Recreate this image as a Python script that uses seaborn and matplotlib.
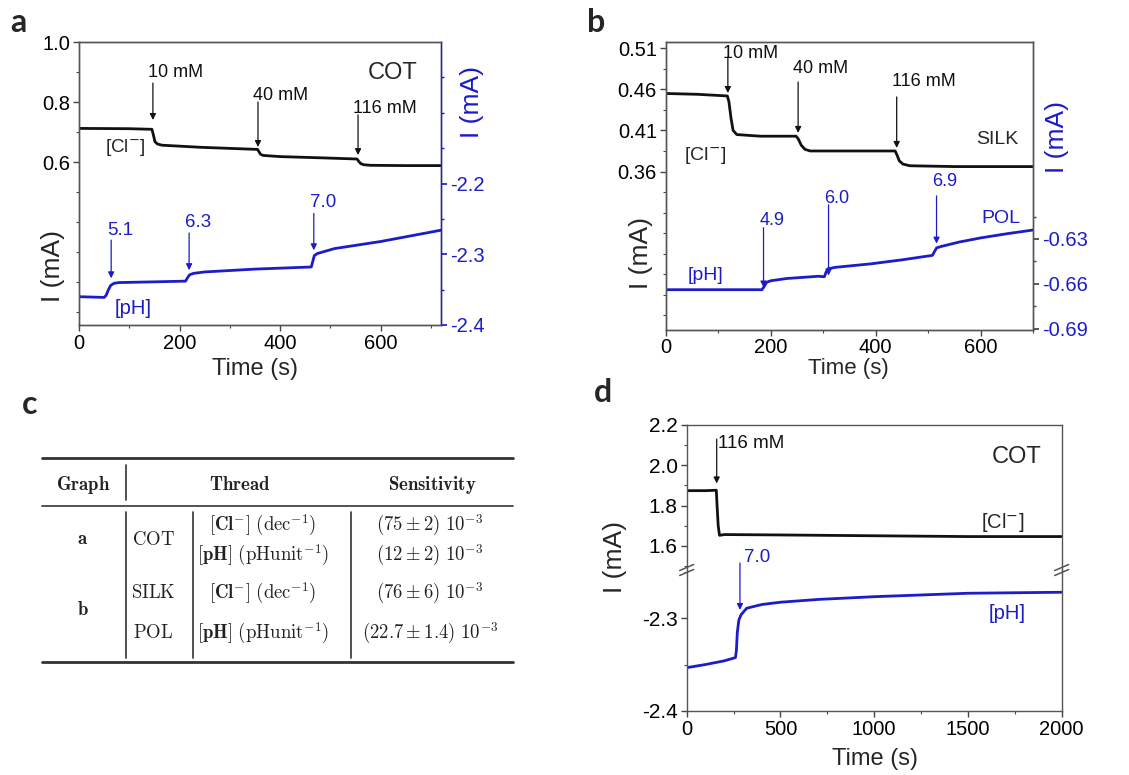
import numpy as np
import pandas as pd
import matplotlib
matplotlib.use("Agg")
import matplotlib.pyplot as plt
from matplotlib.ticker import FixedLocator, MultipleLocator, FormatStrFormatter
import seaborn as sns

# ---------------- data ----------------
# panel a: COT thread
a_t_cl = [0, 100, 145, 148, 151, 156, 165, 242, 355, 358, 361, 366, 400, 480, 553, 556, 560, 566, 580, 650, 720]
a_v_cl = [0.712, 0.711, 0.709, 0.690, 0.668, 0.660, 0.656, 0.649, 0.642, 0.634, 0.626, 0.622, 0.618, 0.614, 0.610, 0.603, 0.595, 0.591, 0.589, 0.588, 0.588]
a_t_ph = [0, 50, 54, 58, 63, 70, 80, 150, 212, 216, 220, 228, 250, 350, 462, 465, 468, 474, 508, 600, 720]
a_v_ph = [-2.360, -2.361, -2.358, -2.351, -2.344, -2.341, -2.340, -2.339, -2.338, -2.333, -2.329, -2.327, -2.325, -2.321, -2.318, -2.310, -2.302, -2.299, -2.292, -2.282, -2.266]

# panel b: SILK / POL threads
b_t_cl = [0, 60, 117, 120, 124, 128, 135, 180, 248, 252, 258, 265, 275, 350, 437, 440, 445, 452, 465, 550, 700]
b_v_cl = [0.455, 0.454, 0.452, 0.445, 0.425, 0.410, 0.405, 0.403, 0.403, 0.400, 0.392, 0.387, 0.385, 0.385, 0.385, 0.381, 0.373, 0.369, 0.367, 0.366, 0.366]
b_t_ph = [0, 100, 183, 187, 192, 200, 230, 290, 302, 305, 309, 323, 390, 450, 508, 512, 516, 525, 560, 600, 650, 700]
b_v_ph = [-0.664, -0.664, -0.664, -0.662, -0.659, -0.658, -0.6565, -0.655, -0.6553, -0.6525, -0.650, -0.649, -0.6467, -0.644, -0.641, -0.6385, -0.636, -0.635, -0.632, -0.6293, -0.6265, -0.624]

# panel d: COT long run
d_t_cl = [0, 100, 158, 162, 168, 175, 200, 500, 1000, 1500, 2000]
d_v_cl = [1.874, 1.874, 1.876, 1.80, 1.70, 1.652, 1.656, 1.654, 1.650, 1.646, 1.646]
d_t_ph = [0, 100, 200, 260, 265, 270, 278, 290, 320, 400, 500, 700, 1000, 1500, 2000]
d_v_ph = [-2.3534, -2.350, -2.346, -2.3425, -2.335, -2.315, -2.302, -2.296, -2.289, -2.285, -2.2825, -2.2795, -2.2765, -2.2728, -2.2717]

# annotations (label, time, tail value, head value, text value)
a_cl_marks = [("10 mM", 147, 0.863, 0.740, 0.900), ("40 mM", 356, 0.800, 0.650, 0.823), ("116 mM", 555, 0.757, 0.623, 0.780)]
a_ph_marks = [("5.1", 64, -2.280, -2.334, -2.266), ("6.3", 219, -2.270, -2.3225, -2.255), ("7.0", 467, -2.2423, -2.2944, -2.2268)]
b_cl_marks = [("10 mM", 118, 0.4994, 0.4556, 0.5043), ("40 mM", 252, 0.469, 0.407, 0.486), ("116 mM", 440, 0.4508, 0.3887, 0.4702)]
b_ph_marks = [("4.9", 186, -0.6225, -0.6625, -0.6178), ("6.0", 310, -0.6071, -0.6545, -0.6031), ("6.9", 516, -0.6011, -0.6331, -0.5918)]
d_cl_marks = [("116 mM", 160, 2.13, 1.91, 2.11)]
d_ph_marks = [("7.0", 284, -2.240, -2.2909, -2.2346)]

# table (panel c)
tbl_header = ["Graph", "Thread", "Sensitivity"]
tbl_graph = ["a", "b"]
tbl_thread = ["COT", "SILK", "POL"]
tbl_ion = [r"$[\mathbf{Cl}^{\mathbf{-}}]\ (\mathrm{dec}^{-1})$", r"$[\mathbf{pH}]\ (\mathrm{pHunit}^{-1})$",
           r"$[\mathbf{Cl}^{\mathbf{-}}]\ (\mathrm{dec}^{-1})$", r"$[\mathbf{pH}]\ (\mathrm{pHunit}^{-1})$"]
tbl_sens = [r"$(75 \pm 2)\ 10^{-3}$", r"$(12 \pm 2)\ 10^{-3}$", r"$(76 \pm 6)\ 10^{-3}$", r"$(22.7 \pm 1.4)\ 10^{-3}$"]

# ---------------- style ----------------
sns.set_theme(style="ticks")
plt.rcParams["font.family"] = ["Liberation Sans", "DejaVu Sans"]
plt.rcParams["axes.linewidth"] = 1.0
plt.rcParams["axes.edgecolor"] = "#555555"
plt.rcParams["axes.unicode_minus"] = False
BLUE = "#1c1cc8"
BLACK = "#111111"
TICK = 14.5
W, H = 1129, 775

fig = plt.figure(figsize=(W / 100, H / 100), dpi=100)


def frac(l, t, r, b):
    return [l / W, 1 - b / H, (r - l) / W, (b - t) / H]


def style_axis(ax):
    ax.tick_params(axis="both", which="both", direction="out", labelsize=TICK, colors="#444444",
                   labelcolor="black", top=False, right=False, pad=2.5)
    ax.tick_params(which="major", length=4, width=1)
    ax.tick_params(which="minor", length=2.5, width=0.8)


def plot_line(ax, t, v, color):
    sns.lineplot(x=t, y=v, ax=ax, color=color, linewidth=2.0, sort=False, estimator=None)


def arrows(ax, marks, color, text_mode="left", dt=0.0, fs=13):
    for lab, t, tail, head, tv in marks:
        ax.annotate("", xy=(t, head), xytext=(t, tail),
                    arrowprops=dict(arrowstyle="-|>", color=color, lw=0.9, mutation_scale=9,
                                    shrinkA=0, shrinkB=0), annotation_clip=False)
        ax.text(t + dt, tv, lab, color=color, fontsize=fs, ha=text_mode, va="center", clip_on=False)


# ---------------- panel a ----------------
axa = fig.add_axes(frac(79, 42, 441, 325))
plot_line(axa, a_t_cl, a_v_cl, BLACK)
axa.set_xlim(0, 720)
axa.set_ylim(0.0567, 1.0)
axa.yaxis.set_major_locator(FixedLocator([0.6, 0.8, 1.0]))
axa.yaxis.set_minor_locator(FixedLocator([0.1, 0.2, 0.3, 0.4, 0.5, 0.7, 0.9]))
axa.xaxis.set_major_locator(MultipleLocator(200))
axa.xaxis.set_minor_locator(MultipleLocator(100))
axa.yaxis.set_major_formatter(FormatStrFormatter("%.1f"))
style_axis(axa)
axa.set_xlabel("Time (s)", fontsize=17)
axa.xaxis.set_label_coords(0.486, -0.117)
axa.set_ylabel("I (mA)", fontsize=19)
axa.yaxis.set_label_coords(-0.04, 0.21)
arrows(axa, a_cl_marks, BLACK, "left", dt=-10)
axa.text(624, 0.897, "COT", fontsize=17, ha="center", va="center")
axa.text(93, 0.65, "[Cl$^{-}$]", fontsize=13.5, ha="center", va="center")

axa2 = axa.twinx()
plot_line(axa2, a_t_ph, a_v_ph, BLUE)
axa2.set_ylim(-2.4, -2.0)
axa2.yaxis.set_major_locator(FixedLocator([-2.4, -2.3, -2.2]))
axa2.yaxis.set_minor_locator(FixedLocator([-2.35, -2.25, -2.15, -2.1, -2.05]))
axa2.yaxis.set_major_formatter(FormatStrFormatter("%.1f"))
axa2.tick_params(axis="y", which="both", direction="out", labelsize=TICK, colors=BLUE, labelcolor=BLUE, pad=2.5)
axa2.tick_params(which="major", length=4)
axa2.tick_params(which="minor", length=2.5)
axa2.spines["right"].set_color(BLUE)
axa2.set_ylabel("I (mA)", fontsize=19, color=BLUE, rotation=90)
axa2.yaxis.set_label_coords(1.0525, 0.788)
arrows(axa2, a_ph_marks, BLUE, "center", dt=18, fs=13.5)
axa2.text(107, -2.376, "[pH]", fontsize=14.5, color=BLUE, ha="center", va="center")

# ---------------- panel b ----------------
axb = fig.add_axes(frac(666, 42, 1033, 330))
plot_line(axb, b_t_cl, b_v_cl, BLACK)
axb.set_xlim(0, 700)
axb.set_ylim(0.167, 0.5177)
axb.yaxis.set_major_locator(FixedLocator([0.36, 0.41, 0.46, 0.51]))
axb.yaxis.set_minor_locator(FixedLocator([0.185, 0.21, 0.235, 0.26, 0.285, 0.31, 0.335, 0.385, 0.435, 0.485]))
axb.xaxis.set_major_locator(MultipleLocator(200))
axb.xaxis.set_minor_locator(MultipleLocator(100))
style_axis(axb)
axb.tick_params(axis="x", pad=1.5)
axb.set_xlabel("Time (s)", fontsize=16)
axb.xaxis.set_label_coords(0.496, -0.097)
axb.set_ylabel("I (mA)", fontsize=19)
axb.yaxis.set_label_coords(-0.035, 0.267)
arrows(axb, b_cl_marks, BLACK, "left", dt=-9, fs=13)
axb.text(632, 0.3993, "SILK", fontsize=14, ha="center", va="center")
axb.text(74.5, 0.379, "[Cl$^{-}$]", fontsize=14, ha="center", va="center")

axb2 = axb.twinx()
plot_line(axb2, b_t_ph, b_v_ph, BLUE)
axb2.set_ylim(-0.691, -0.498)
axb2.yaxis.set_major_locator(FixedLocator([-0.69, -0.66, -0.63]))
axb2.yaxis.set_minor_locator(FixedLocator([-0.675, -0.645, -0.615]))
axb2.tick_params(axis="y", which="both", direction="out", labelsize=TICK, colors="#444444", labelcolor=BLUE, pad=2.5)
axb2.tick_params(which="major", length=4)
axb2.tick_params(which="minor", length=2.5)
axb2.set_ylabel("I (mA)", fontsize=19, color=BLUE, rotation=90)
axb2.yaxis.set_label_coords(1.033, 0.670)
arrows(axb2, b_ph_marks, BLUE, "center", dt=16, fs=13)
axb2.text(638, -0.6165, "POL", fontsize=14, color=BLUE, ha="center", va="center")
axb2.text(74.5, -0.6545, "[pH]", fontsize=14, color=BLUE, ha="center", va="center")

# ---------------- panel d (broken axis) ----------------
axd1 = fig.add_axes(frac(686.7, 425, 1061.7, 570))
axd2 = fig.add_axes(frac(686.7, 570, 1061.7, 710.7))
for ax in (axd1, axd2):
    ax.patch.set_visible(False)
plot_line(axd1, d_t_cl, d_v_cl, BLACK)
plot_line(axd2, d_t_ph, d_v_ph, BLUE)
axd1.set_xlim(0, 2000)
axd2.set_xlim(0, 2000)
axd1.set_ylim(1.48, 2.2)
axd2.set_ylim(-2.4, -2.2476)
axd1.spines["bottom"].set_visible(False)
axd2.spines["top"].set_visible(False)
axd1.yaxis.set_major_locator(FixedLocator([1.6, 1.8, 2.0, 2.2]))
axd1.yaxis.set_minor_locator(FixedLocator([1.5, 1.7, 1.9, 2.1]))
axd2.yaxis.set_major_locator(FixedLocator([-2.4, -2.3]))
axd2.yaxis.set_minor_locator(FixedLocator([-2.35, -2.25]))
axd1.yaxis.set_major_formatter(FormatStrFormatter("%.1f"))
axd2.yaxis.set_major_formatter(FormatStrFormatter("%.1f"))
axd2.xaxis.set_major_locator(MultipleLocator(500))
axd2.xaxis.set_minor_locator(MultipleLocator(250))
style_axis(axd1)
style_axis(axd2)
axd1.tick_params(axis="x", which="both", bottom=False, labelbottom=False)
axd1.tick_params(axis="y", labelsize=15)
axd2.tick_params(axis="y", labelsize=15)
axd1.set_xlabel("")
axd2.set_xlabel("Time (s)", fontsize=17)
axd2.xaxis.set_label_coords(0.502, -0.262)
axd1.set_ylabel("I (mA)", fontsize=19)
axd1.yaxis.set_label_coords(-0.16, 0.092)
axd2.set_ylabel("")
arrows(axd1, d_cl_marks, BLACK, "left", dt=8, fs=13.5)
arrows(axd2, d_ph_marks, BLUE, "center", dt=89, fs=13.5)
axd1.text(1760, 2.0415, "COT", fontsize=17, ha="center", va="center")
axd1.text(1687, 1.716, "[Cl$^{-}$]", fontsize=14.5, ha="center", va="center")
axd2.text(1707, -2.2942, "[pH]", fontsize=14.5, color=BLUE, ha="center", va="center")

# ---------------- overlay: panel letters, break marks, table ----------------
ov = fig.add_axes([0, 0, 1, 1], zorder=10)
ov.set_xlim(0, W)
ov.set_ylim(H, 0)
ov.axis("off")
ov.patch.set_visible(False)
for lab, x, y in [("a", 18, 22), ("b", 596, 22), ("c", 30, 405), ("d", 603, 392)]:
    ov.text(x, y, lab, fontsize=23, fontweight="bold", ha="center", va="center", family=["Lato", "DejaVu Sans"])
for xs in (686.7, 1061.7):
    for dy in (-2.5, 2.5):
        ov.plot([xs - 7, xs + 7], [570 + dy + 3, 570 + dy - 3], color="#555555", lw=1.1)

CM = dict(math_fontfamily="cm", fontsize=13.5, ha="center", va="center", color="#222222")
ov.plot([42, 513], [458, 458], color="#333333", lw=2.0)
ov.plot([42, 513], [505.5, 505.5], color="#444444", lw=1.3)
ov.plot([42, 513], [662, 662], color="#333333", lw=2.0)
ov.plot([126, 126], [465, 500], color="#333333", lw=1.2)
for xv in (126, 193, 351):
    ov.plot([xv, xv], [512, 658], color="#333333", lw=1.2)
for txt, x in zip(tbl_header, (83, 240, 432)):
    ov.text(x, 485, r"$\mathbf{" + txt + "}$", **CM)
for txt, y in zip(tbl_graph, (540, 610)):
    ov.text(83, y, r"$\mathbf{" + txt + "}$", **CM)
for txt, y in zip(tbl_thread, (540, 593, 633)):
    ov.text(153, y, r"$\mathrm{" + txt + "}$", **CM)
for txt, y in zip(tbl_ion, (525, 555, 593, 633)):
    ov.text(263, y, txt, **CM)
for txt, y in zip(tbl_sens, (525, 555, 593, 633)):
    ov.text(430, y, txt, **CM)

fig.savefig("out.png", dpi=100)
